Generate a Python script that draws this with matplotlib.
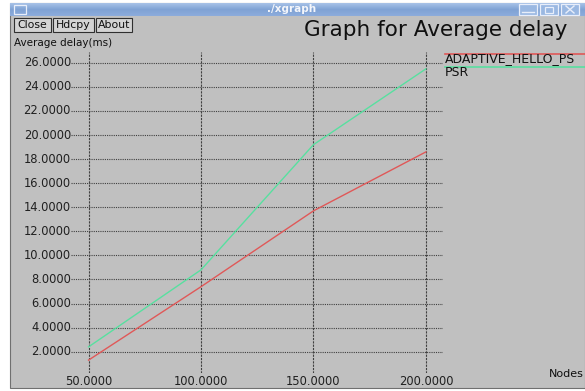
import numpy as np
import matplotlib.pyplot as plt
from matplotlib.patches import Rectangle
from matplotlib.colors import LinearSegmentedColormap

# Average delay (ms) against number of nodes
nodes = [50, 100, 150, 200]
adaptive_hello_ps = [1.3, 7.4, 13.7, 18.6]
psr = [2.4, 8.8, 19.2, 25.5]

series_names = ["ADAPTIVE_HELLO_PS", "PSR"]
series_colors = ["#e05858", "#58e0a0"]

x_ticks = [50, 100, 150, 200]
y_ticks = [2, 4, 6, 8, 10, 12, 14, 16, 18, 20, 22, 24, 26]

W, H = 585, 391
GRAY = "#c0c0c0"
plt.rcParams['font.family'] = ['DejaVu Sans']

fig = plt.figure(figsize=(W / 100, H / 100), dpi=100)
fig.patch.set_facecolor("white")

# window chrome drawn in pixel coordinates
bg = fig.add_axes([0, 0, 1, 1])
bg.set_xlim(0, W)
bg.set_ylim(H, 0)
bg.axis("off")

bg.add_patch(Rectangle((10, 3), W - 10, 385, facecolor=GRAY, edgecolor="#707070", lw=0.8))

# title bar gradient
grad = np.linspace(0, 1, 50).reshape(-1, 1)
bar_cmap = LinearSegmentedColormap.from_list("bar", ["#a8c2e8", "#7fa2d4", "#8cacdc"])
bg.imshow(grad, extent=(10, W, 16, 3), cmap=bar_cmap, aspect="auto", zorder=1)
bg.text(292, 9.5, "./xgraph", color="#f4f6fb", fontsize=7.5, fontweight="bold",
        ha="center", va="center", zorder=2)
bg.add_patch(Rectangle((14, 4.5), 12, 9, facecolor="none", edgecolor="#e8eefa", lw=0.9, zorder=2))
for bx in (519, 540, 561):
    bg.add_patch(Rectangle((bx, 4), 18, 11, facecolor="#9ab8e2", edgecolor="#e8eefa", lw=0.9, zorder=2))
bg.plot([522, 534], [12, 12], color="#e8eefa", lw=1, zorder=3)
bg.add_patch(Rectangle((545, 6.5), 8, 6, facecolor="none", edgecolor="#e8eefa", lw=0.9, zorder=3))
bg.plot([566, 574], [6, 13], color="#e8eefa", lw=1, zorder=3)
bg.plot([566, 574], [13, 6], color="#e8eefa", lw=1, zorder=3)

# buttons
for label, x0, x1 in (("Close", 14, 51), ("Hdcpy", 53, 94), ("About", 96, 132)):
    bg.add_patch(Rectangle((x0, 18), x1 - x0, 14, facecolor="#d4d4d4", edgecolor="#303030", lw=0.8))
    bg.text((x0 + x1) / 2, 25.5, label, fontsize=7.8, ha="center", va="center", color="#101010")

bg.text(436, 30, "Graph for Average delay", fontsize=15.5, ha="center", va="center", color="#101010")
bg.text(14, 43, "Average delay(ms)", fontsize=7.5, ha="left", va="center", color="#101010")
bg.text(584, 374, "Nodes", fontsize=8, ha="right", va="center", color="#101010")

# plot area
xmin, xmax = 42.2, 207.6
ymin, ymax = 0.23, 26.9
left, right, top, bottom = 71, 443, 52, 373
ax = fig.add_axes([left / W, 1 - bottom / H, (right - left) / W, (bottom - top) / H])
ax.set_xlim(xmin, xmax)
ax.set_ylim(ymin, ymax)
ax.set_facecolor("none")
ax.axis("off")

ax.hlines(y_ticks, xmin, xmax, colors="#404040", linestyles=(0, (1, 1)), lw=0.8)
ax.vlines(x_ticks, ymin, ymax, colors="#404040", linestyles=(0, (2, 1)), lw=0.8)

for v in y_ticks:
    ax.text(xmin, v, f"{v:.4f}", fontsize=8.3, ha="right", va="center", color="#202020")
for v in x_ticks:
    ax.text(v, ymin - 0.7, f"{v:.4f}", fontsize=8.3, ha="center", va="center",
            color="#202020", clip_on=False)

ax.plot(nodes, adaptive_hello_ps, color=series_colors[0], lw=1)
ax.plot(nodes, psr, color=series_colors[1], lw=1)

# legend at the right of the plot area
for i, name in enumerate(series_names):
    ly = 54 + i * 13
    bg.plot([445, W], [ly, ly], color=series_colors[i], lw=1.2)
    bg.text(445, ly + 5, name, fontsize=9, ha="left", va="center", color="#101010")

fig.savefig("out.png", dpi=100, facecolor="white")
